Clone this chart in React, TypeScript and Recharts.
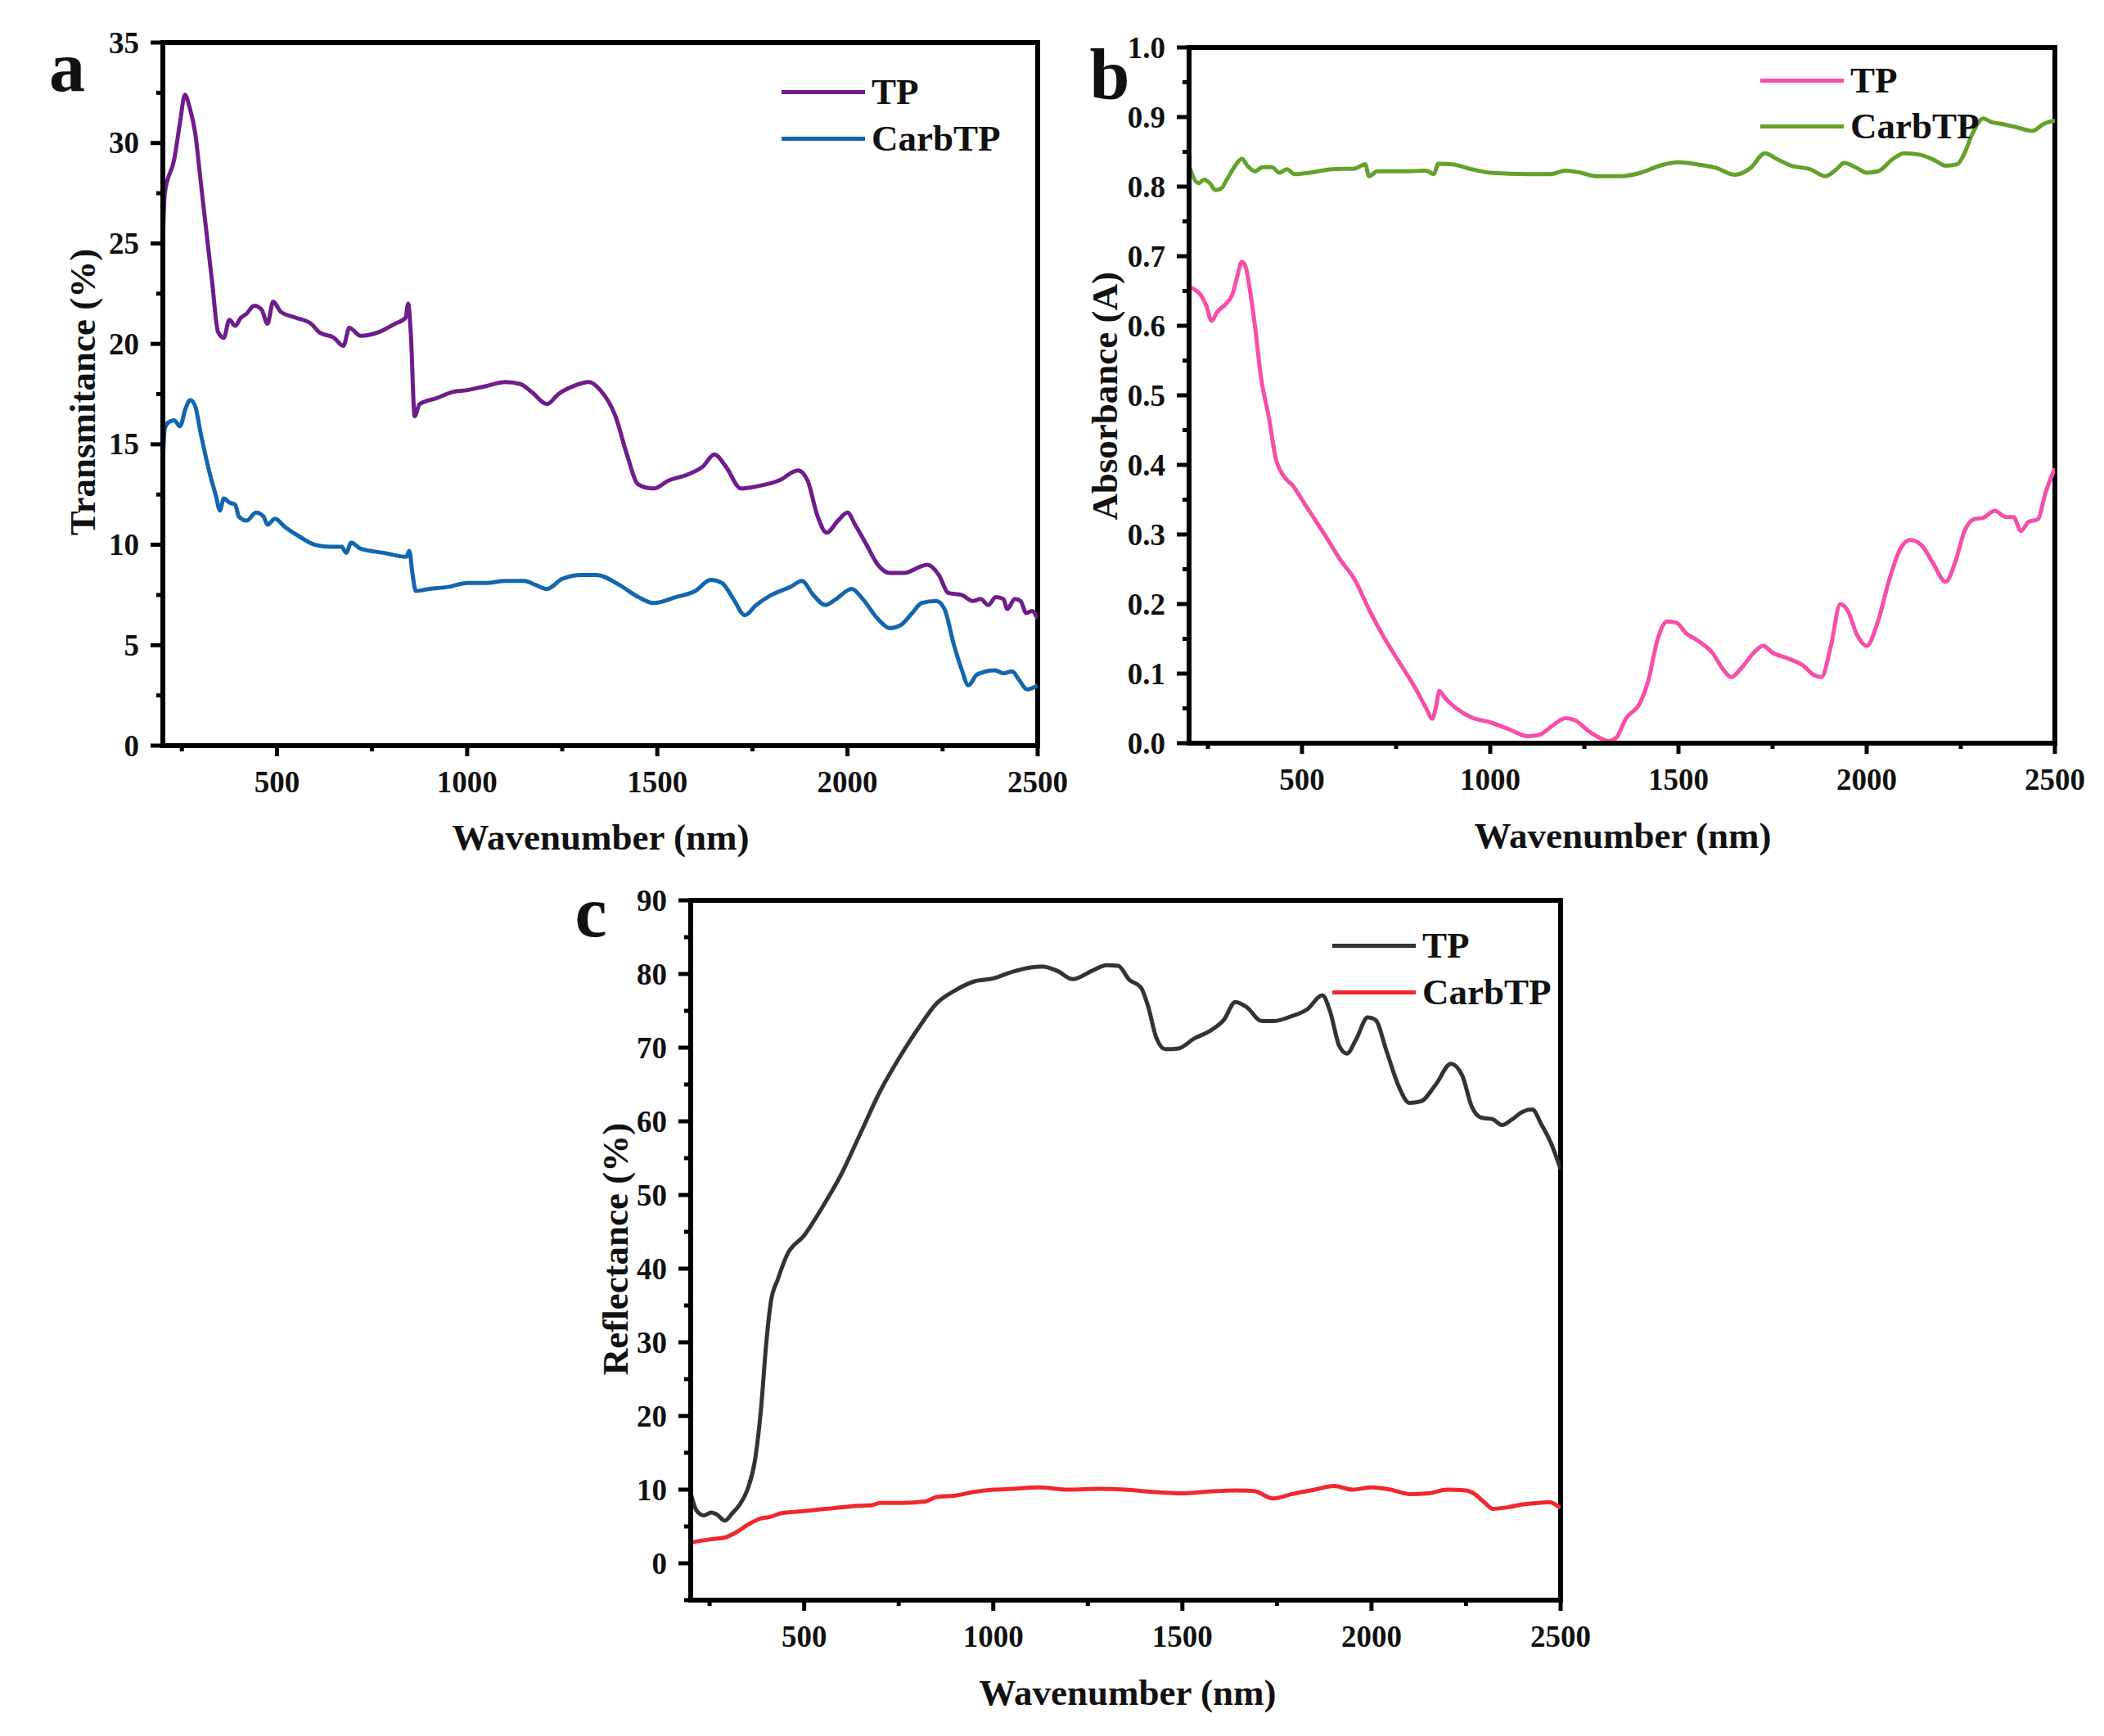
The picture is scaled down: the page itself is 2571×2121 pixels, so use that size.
import React from 'react';
import { LineChart, Line, XAxis, YAxis, ReferenceArea } from 'recharts';

type Pt = [number, number];

// wavelength axis shared by all three panels
const X_DOMAIN: [number, number] = [200, 2500];
const X_TICKS = [250, 500, 750, 1000, 1250, 1500, 1750, 2000, 2250, 2500];

const A_Y_TICKS = [0, 2.5, 5, 7.5, 10, 12.5, 15, 17.5, 20, 22.5, 25, 27.5, 30, 32.5, 35];
const B_Y_TICKS = [0, 0.05, 0.1, 0.15, 0.2, 0.25, 0.3, 0.35, 0.4, 0.45, 0.5, 0.55, 0.6, 0.65, 0.7, 0.75, 0.8, 0.85, 0.9, 0.95, 1.0];
const C_Y_TICKS = [-5, 0, 5, 10, 15, 20, 25, 30, 35, 40, 45, 50, 55, 60, 65, 70, 75, 80, 85, 90];

// (a) transmittance
const A_TP: Pt[] = [
  [200, 25.0], [205, 27.5], [230, 29.2], [245, 31.0], [258, 32.4], [270, 31.8], [285, 30.5], [300, 28.0],
  [315, 25.5], [330, 23.0], [345, 20.6], [360, 20.3], [375, 21.2], [390, 20.9], [405, 21.3], [420, 21.5],
  [440, 21.9], [460, 21.7], [475, 21.0], [490, 22.1], [510, 21.6], [550, 21.3], [590, 21.0], [610, 20.6],
  [650, 20.3], [675, 19.9], [690, 20.8], [720, 20.4], [770, 20.6], [810, 21.0], [838, 21.3], [845, 22.0],
  [852, 20.5], [862, 16.4], [875, 17.0], [920, 17.3], [960, 17.6], [1000, 17.7], [1050, 17.9], [1100, 18.1],
  [1140, 18.0], [1170, 17.6], [1210, 17.0], [1240, 17.5], [1280, 17.9], [1320, 18.1], [1350, 17.7], [1390, 16.4],
  [1420, 14.5], [1450, 13.0], [1490, 12.8], [1530, 13.2], [1580, 13.5], [1620, 13.9], [1650, 14.5], [1680, 13.9],
  [1720, 12.8], [1760, 12.9], [1820, 13.2], [1870, 13.7], [1895, 13.2], [1920, 11.5], [1945, 10.6], [1975, 11.2],
  [2000, 11.6], [2020, 11.0], [2050, 10.0], [2080, 9.0], [2110, 8.6], [2150, 8.6], [2190, 8.9], [2210, 9.0],
  [2240, 8.5], [2265, 7.6], [2300, 7.5], [2330, 7.2], [2350, 7.3], [2370, 7.0], [2390, 7.4], [2410, 7.3],
  [2420, 6.8], [2440, 7.3], [2455, 7.2], [2470, 6.6], [2485, 6.7], [2500, 6.3],
];
const A_CARB: Pt[] = [
  [200, 14.0], [205, 15.8], [215, 16.1], [230, 16.2], [245, 15.9], [260, 16.8], [272, 17.2], [285, 16.9],
  [300, 15.5], [320, 13.8], [340, 12.4], [350, 11.7], [360, 12.3], [375, 12.1], [390, 12.0], [400, 11.4],
  [420, 11.2], [445, 11.6], [465, 11.4], [475, 11.0], [495, 11.3], [520, 10.9], [560, 10.4], [600, 10.0],
  [640, 9.9], [670, 9.9], [682, 9.6], [695, 10.1], [720, 9.8], [780, 9.6], [840, 9.4], [848, 9.7],
  [856, 8.6], [865, 7.7], [900, 7.8], [950, 7.9], [1000, 8.1], [1050, 8.1], [1100, 8.2], [1150, 8.2],
  [1180, 8.0], [1210, 7.8], [1250, 8.3], [1300, 8.5], [1340, 8.5], [1400, 8.0], [1450, 7.4], [1490, 7.1],
  [1550, 7.4], [1600, 7.7], [1640, 8.25], [1670, 8.1], [1700, 7.3], [1730, 6.5], [1760, 7.0], [1800, 7.5],
  [1850, 7.9], [1880, 8.2], [1910, 7.5], [1942, 7.0], [1970, 7.3], [2011, 7.8], [2040, 7.3], [2080, 6.3],
  [2111, 5.85], [2140, 6.0], [2170, 6.6], [2195, 7.1], [2233, 7.2], [2255, 6.8], [2280, 5.0], [2300, 3.8],
  [2318, 3.0], [2341, 3.55], [2388, 3.75], [2410, 3.6], [2433, 3.7], [2450, 3.3], [2472, 2.8], [2500, 3.0],
];

// (b) absorbance
const B_TP: Pt[] = [
  [200, 0.655], [215, 0.652], [230, 0.645], [245, 0.63], [260, 0.607], [275, 0.62], [295, 0.63], [315, 0.645],
  [330, 0.675], [340, 0.692], [350, 0.685], [362, 0.65], [375, 0.6], [390, 0.53], [413, 0.465], [430, 0.41],
  [450, 0.385], [476, 0.37], [500, 0.35], [530, 0.325], [560, 0.3], [600, 0.265], [640, 0.235], [680, 0.19],
  [720, 0.15], [760, 0.115], [800, 0.08], [830, 0.05], [846, 0.035], [855, 0.05], [865, 0.075], [880, 0.065],
  [910, 0.05], [950, 0.037], [1000, 0.03], [1050, 0.02], [1100, 0.01], [1130, 0.012], [1165, 0.025], [1200, 0.036],
  [1225, 0.033], [1260, 0.018], [1290, 0.008], [1315, 0.003], [1335, 0.008], [1360, 0.035], [1400, 0.06], [1420, 0.09],
  [1445, 0.15], [1470, 0.175], [1495, 0.173], [1520, 0.158], [1550, 0.148], [1590, 0.13], [1620, 0.105], [1640, 0.095],
  [1670, 0.11], [1700, 0.13], [1725, 0.14], [1750, 0.13], [1790, 0.122], [1830, 0.112], [1860, 0.098], [1880, 0.095],
  [1905, 0.14], [1930, 0.2], [1950, 0.19], [1975, 0.155], [2000, 0.14], [2030, 0.175], [2060, 0.235], [2090, 0.28],
  [2115, 0.292], [2145, 0.285], [2175, 0.26], [2210, 0.232], [2235, 0.26], [2260, 0.305], [2285, 0.322], [2310, 0.324],
  [2340, 0.334], [2370, 0.325], [2390, 0.325], [2410, 0.305], [2430, 0.318], [2455, 0.322], [2475, 0.36], [2500, 0.395],
];
const B_CARB: Pt[] = [
  [200, 0.83], [210, 0.815], [225, 0.805], [240, 0.81], [255, 0.805], [270, 0.795], [285, 0.797], [300, 0.81],
  [320, 0.828], [340, 0.84], [355, 0.83], [375, 0.822], [395, 0.828], [420, 0.828], [440, 0.82], [460, 0.825],
  [480, 0.818], [520, 0.82], [580, 0.825], [640, 0.826], [668, 0.832], [678, 0.815], [700, 0.822], [780, 0.822],
  [830, 0.823], [850, 0.818], [862, 0.833], [900, 0.832], [950, 0.825], [1000, 0.82], [1100, 0.818], [1160, 0.818],
  [1200, 0.823], [1240, 0.82], [1280, 0.815], [1350, 0.815], [1400, 0.82], [1450, 0.83], [1500, 0.835], [1550, 0.832],
  [1600, 0.827], [1650, 0.817], [1690, 0.826], [1730, 0.848], [1760, 0.84], [1800, 0.83], [1850, 0.825], [1890, 0.815],
  [1920, 0.825], [1940, 0.834], [1970, 0.828], [2000, 0.82], [2030, 0.822], [2070, 0.84], [2100, 0.848], [2140, 0.846],
  [2180, 0.838], [2210, 0.83], [2240, 0.832], [2260, 0.848], [2280, 0.875], [2310, 0.898], [2330, 0.893], [2360, 0.89],
  [2400, 0.885], [2440, 0.88], [2470, 0.89], [2500, 0.895],
];

// (c) reflectance
const C_TP: Pt[] = [
  [200, 9.5], [215, 7.2], [235, 6.5], [255, 6.9], [270, 6.6], [290, 5.8], [310, 6.8], [330, 8.0],
  [350, 10.0], [370, 14.0], [386, 21.0], [400, 30.0], [412, 35.5], [430, 38.5], [456, 42.0], [500, 44.5],
  [550, 48.5], [600, 53.0], [650, 58.5], [700, 64.0], [750, 68.5], [800, 72.5], [850, 76.0], [900, 77.8],
  [950, 79.0], [1000, 79.4], [1050, 80.3], [1100, 80.9], [1130, 81.0], [1170, 80.4], [1210, 79.3], [1260, 80.4],
  [1300, 81.2], [1330, 81.1], [1360, 79.2], [1390, 78.2], [1410, 75.5], [1430, 71.5], [1455, 69.8], [1490, 69.9],
  [1530, 71.2], [1580, 72.5], [1610, 73.8], [1640, 76.2], [1670, 75.5], [1710, 73.6], [1740, 73.6], [1790, 74.3],
  [1830, 75.2], [1870, 77.1], [1890, 75.0], [1915, 70.2], [1935, 69.2], [1960, 71.2], [1990, 74.1], [2010, 73.8],
  [2040, 69.5], [2070, 65.0], [2100, 62.5], [2130, 62.7], [2170, 65.0], [2210, 67.8], [2240, 66.2], [2265, 62.0],
  [2290, 60.5], [2320, 60.3], [2345, 59.5], [2370, 60.2], [2400, 61.3], [2425, 61.6], [2450, 59.5], [2475, 57.0],
  [2500, 53.5],
];
const C_CARB: Pt[] = [
  [200, 2.8], [230, 3.1], [260, 3.3], [290, 3.5], [320, 4.2], [350, 5.2], [380, 6.0], [410, 6.3],
  [440, 6.8], [480, 7.0], [520, 7.2], [580, 7.5], [640, 7.8], [680, 7.9], [700, 8.2], [760, 8.2],
  [820, 8.4], [850, 9.0], [900, 9.2], [950, 9.7], [1000, 10.0], [1050, 10.1], [1120, 10.3], [1200, 10.0],
  [1280, 10.1], [1350, 10.0], [1420, 9.7], [1500, 9.5], [1560, 9.7], [1640, 9.9], [1690, 9.8], [1740, 8.8],
  [1790, 9.4], [1850, 10.0], [1900, 10.5], [1950, 10.0], [2000, 10.3], [2050, 10.0], [2100, 9.4], [2150, 9.5],
  [2200, 10.0], [2250, 9.9], [2270, 9.5], [2300, 8.2], [2320, 7.4], [2360, 7.6], [2400, 8.0], [2440, 8.2],
  [2470, 8.3], [2500, 7.5],
];

const FONT = "'Liberation Serif', 'Times New Roman', serif";
const TICK_FONT = 37;
const X_TS = 12;
const X_TM = 18;
const Y_TS = 15;
const Y_TM = 12;

const toRows = (pts: Pt[]) => pts.map(([x, y]) => ({ x, y }));

function XTick(props: any) {
  const { x, y, payload } = props;
  const v = payload.value;
  const major = v % 500 === 0;
  const y0 = y - X_TS - X_TM;
  return (
    <g>
      <line x1={x} x2={x} y1={y0} y2={y0 + (major ? 13 : 7)} stroke="#000" strokeWidth={5} />
      {major && (
        <text x={x} y={y0 + 57} textAnchor="middle" fontSize={TICK_FONT} fontWeight="bold" fontFamily={FONT} fill="#111">
          {v}
        </text>
      )}
    </g>
  );
}

const makeYTick = (isMajor: (v: number) => boolean, fmt: (v: number) => string) =>
  function YTick(props: any) {
    const { x, y, payload } = props;
    const v = payload.value;
    const major = isMajor(v);
    const x0 = x + Y_TS + Y_TM;
    return (
      <g>
        <line x1={x0 - (major ? 15 : 8)} x2={x0} y1={y} y2={y} stroke="#000" strokeWidth={5} />
        {major && (
          <text x={x0 - 29} y={y} dy={TICK_FONT * 0.34} textAnchor="end" fontSize={TICK_FONT} fontWeight="bold" fontFamily={FONT} fill="#111">
            {fmt(v)}
          </text>
        )}
      </g>
    );
  };

interface PanelProps {
  left: number;
  top: number;
  width: number;
  height: number;
  margin: { top: number; right: number };
  yWidth: number;
  xHeight: number;
  yDomain: [number, number];
  yTicks: number[];
  yTick: (p: any) => React.ReactElement;
  series: { pts: Pt[]; color: string; name: string }[];
}

function Panel(p: PanelProps) {
  return (
    <div style={{ position: 'absolute', left: p.left, top: p.top }}>
      <LineChart width={p.width} height={p.height} margin={{ top: p.margin.top, right: p.margin.right, left: 0, bottom: 0 }}>
        <XAxis
          dataKey="x"
          type="number"
          domain={X_DOMAIN}
          ticks={X_TICKS}
          interval={0}
          height={p.xHeight}
          tickSize={X_TS}
          tickMargin={X_TM}
          tickLine={false}
          axisLine={{ stroke: '#000', strokeWidth: 6 }}
          tick={<XTick />}
          allowDataOverflow
        />
        <YAxis
          type="number"
          domain={p.yDomain}
          ticks={p.yTicks}
          interval={0}
          width={p.yWidth}
          tickSize={Y_TS}
          tickMargin={Y_TM}
          tickLine={false}
          axisLine={{ stroke: '#000', strokeWidth: 6 }}
          tick={p.yTick}
          allowDataOverflow
        />
        <ReferenceArea x1={X_DOMAIN[0]} x2={X_DOMAIN[1]} y1={p.yDomain[0]} y2={p.yDomain[1]} fill="none" fillOpacity={0} stroke="#000" strokeWidth={6} />
        {p.series.map((s) => (
          <Line
            key={s.name}
            data={toRows(s.pts)}
            dataKey="y"
            type="monotone"
            stroke={s.color}
            strokeWidth={5}
            dot={false}
            isAnimationActive={false}
          />
        ))}
      </LineChart>
    </div>
  );
}

function Txt({ x, y, size, children, anchor = 'middle', rotate = false }: any) {
  const tx = anchor === 'middle' ? '-50%' : '0';
  return (
    <div
      style={{
        position: 'absolute',
        left: x,
        top: y,
        transform: `translate(${tx}, -50%)${rotate ? ' rotate(-90deg)' : ''}`,
        fontSize: size,
        fontWeight: 'bold',
        lineHeight: 1,
        whiteSpace: 'nowrap',
        color: '#111',
      }}
    >
      {children}
    </div>
  );
}

function LegendBox({ x, y, gap, items }: { x: number; y: number; gap: number; items: { name: string; color: string }[] }) {
  return (
    <>
      {items.map((it, i) => (
        <React.Fragment key={it.name}>
          <div style={{ position: 'absolute', left: x, top: y + i * gap - 2.5, width: 102, height: 5, background: it.color }} />
          <Txt x={x + 110} y={y + i * gap} size={45} anchor="start">
            {it.name}
          </Txt>
        </React.Fragment>
      ))}
    </>
  );
}

const A_COLORS = { tp: '#6F1C8C', carb: '#1366AE' };
const B_COLORS = { tp: '#F74EA8', carb: '#62A22A' };
const C_COLORS = { tp: '#333333', carb: '#F0282D' };

export default function App() {
  return (
    <div style={{ position: 'absolute', left: 0, top: 0, width: 2571, height: 2121, background: '#fff', fontFamily: FONT, overflow: 'hidden' }}>
      {/* panel a */}
      <Panel
        left={0}
        top={0}
        width={1330}
        height={1060}
        margin={{ top: 52, right: 62 }}
        yWidth={199}
        xHeight={149}
        yDomain={[0, 35]}
        yTicks={A_Y_TICKS}
        yTick={makeYTick((v) => v % 5 === 0, (v) => String(v))}
        series={[
          { pts: A_TP, color: A_COLORS.tp, name: 'TP' },
          { pts: A_CARB, color: A_COLORS.carb, name: 'CarbTP' },
        ]}
      />
      <Txt x={82} y={82} size={88}>a</Txt>
      <Txt x={101} y={479} size={45} rotate>Transmitance (%)</Txt>
      <Txt x={734} y={1023} size={45}>Wavenumber (nm)</Txt>
      <LegendBox x={955} y={112} gap={57} items={[{ name: 'TP', color: A_COLORS.tp }, { name: 'CarbTP', color: A_COLORS.carb }]} />

      {/* panel b */}
      <Panel
        left={1300}
        top={0}
        width={1271}
        height={1060}
        margin={{ top: 58, right: 60 }}
        yWidth={153}
        xHeight={152}
        yDomain={[0, 1]}
        yTicks={B_Y_TICKS}
        yTick={makeYTick((v) => Math.round(v * 100) % 10 === 0, (v) => v.toFixed(1))}
        series={[
          { pts: B_TP, color: B_COLORS.tp, name: 'TP' },
          { pts: B_CARB, color: B_COLORS.carb, name: 'CarbTP' },
        ]}
      />
      <Txt x={1356} y={92} size={88}>b</Txt>
      <Txt x={1350} y={484} size={45} rotate>Absorbance (A)</Txt>
      <Txt x={1983} y={1021} size={45}>Wavenumber (nm)</Txt>
      <LegendBox x={2151} y={98} gap={56} items={[{ name: 'TP', color: B_COLORS.tp }, { name: 'CarbTP', color: B_COLORS.carb }]} />

      {/* panel c */}
      <Panel
        left={680}
        top={1080}
        width={1300}
        height={1041}
        margin={{ top: 20, right: 73 }}
        yWidth={164}
        xHeight={166}
        yDomain={[-5, 90]}
        yTicks={C_Y_TICKS}
        yTick={makeYTick((v) => v % 10 === 0, (v) => String(v))}
        series={[
          { pts: C_TP, color: C_COLORS.tp, name: 'TP' },
          { pts: C_CARB, color: C_COLORS.carb, name: 'CarbTP' },
        ]}
      />
      <Txt x={722} y={1115} size={88}>c</Txt>
      <Txt x={752} y={1526} size={45} rotate>Reflectance (%)</Txt>
      <Txt x={1378} y={2068} size={45}>Wavenumber (nm)</Txt>
      <LegendBox x={1628} y={1155} gap={57} items={[{ name: 'TP', color: C_COLORS.tp }, { name: 'CarbTP', color: C_COLORS.carb }]} />
    </div>
  );
}
